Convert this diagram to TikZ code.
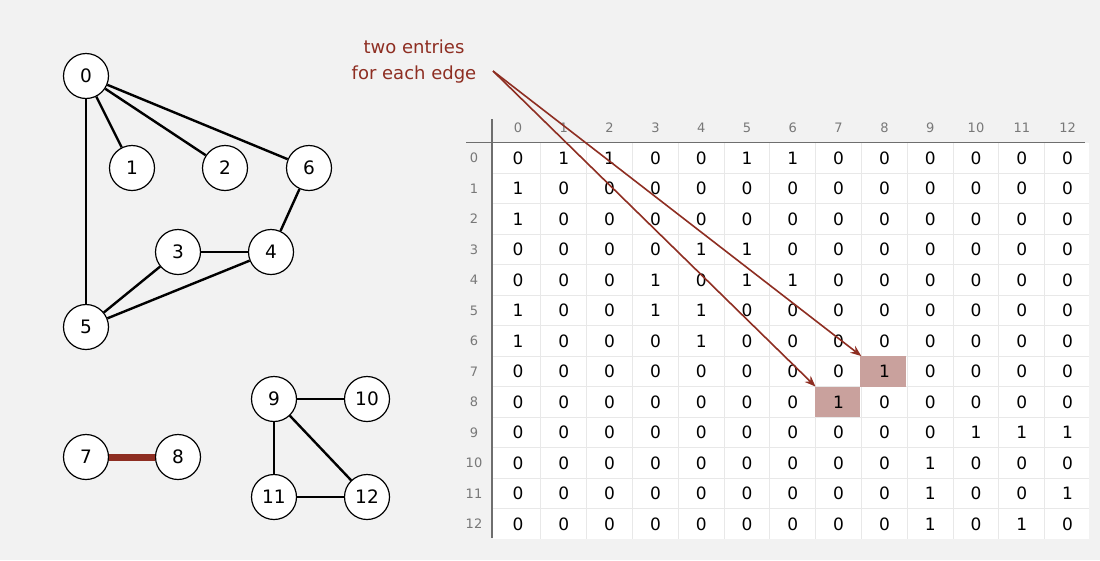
\documentclass[tikz,border=0pt]{standalone}
\usepackage{fontspec}
\setmainfont{DejaVu Sans}
\usetikzlibrary{arrows.meta}
\definecolor{bg}{HTML}{F2F2F2}
\definecolor{redbrown}{HTML}{8E2E22}
\definecolor{hilite}{HTML}{C9A19D}
\definecolor{gridc}{HTML}{E8E8E8}
\definecolor{axisc}{HTML}{6E6E6E}
\definecolor{headc}{HTML}{787878}
\tikzset{
  vtx/.style={circle, draw=black, line width=1.2pt, fill=white, minimum size=45pt, inner sep=0pt, font=\fontsize{18.5}{18.5}\selectfont},
  edge/.style={line width=2.4pt, black},
  redge/.style={line width=7pt, redbrown},
  cell/.style={minimum width=45.8pt, minimum height=30.5pt, inner sep=0pt, font=\fontsize{17}{17}\selectfont},
  head/.style={inner sep=0pt, text=headc, font=\fontsize{13}{13}\selectfont},
  note/.style={text=redbrown, align=center, font=\fontsize{18}{26}\selectfont},
  pointer/.style={redbrown, line width=1.6pt, -{Stealth[length=11pt,width=8.5pt]}},
}
\begin{document}
\begin{tikzpicture}[x=1pt,y=-1pt]
\fill[bg] (0,0) rectangle (1100,560);
\useasboundingbox (0,0) rectangle (1100,560);

% graph vertices
\node[vtx] (g0) at (86,76) {0};
\node[vtx] (g1) at (132,168) {1};
\node[vtx] (g2) at (225,168) {2};
\node[vtx] (g6) at (309,168) {6};
\node[vtx] (g3) at (178,252) {3};
\node[vtx] (g4) at (271,252) {4};
\node[vtx] (g5) at (86,327) {5};
\node[vtx] (g7) at (86,457) {7};
\node[vtx] (g8) at (178,457) {8};
\node[vtx] (g9) at (274,399) {9};
\node[vtx] (g10) at (367,399) {10};
\node[vtx] (g11) at (274,497) {11};
\node[vtx] (g12) at (367,497) {12};
% graph edges
\draw[edge] (g0) -- (g1);
\draw[edge] (g0) -- (g2);
\draw[edge] (g0) -- (g6);
\draw[edge] (g0) -- (g5);
\draw[edge] (g6) -- (g4);
\draw[edge] (g3) -- (g4);
\draw[edge] (g3) -- (g5);
\draw[edge] (g5) -- (g4);
\draw[redge] (g7) -- (g8);
\draw[edge] (g9) -- (g10);
\draw[edge] (g9) -- (g11);
\draw[edge] (g9) -- (g12);
\draw[edge] (g11) -- (g12);

% matrix background and grid
\fill[white] (493,142.75) rectangle (1089.4,539.25);
\foreach \i in {1,...,12} {
  \draw[gridc, line width=0.8pt] ({495+45.8*\i},142.75) -- ({495+45.8*\i},539.25);
  \draw[gridc, line width=0.8pt] (493,{142.75+30.5*\i}) -- (1089.4,{142.75+30.5*\i});
}
% highlighted cells
\fill[hilite] (860.4,356.25) rectangle (906.2,386.75);
\fill[hilite] (814.6,386.75) rectangle (860.4,417.25);

% matrix entries
\foreach \r/\row in {
 0/{0,1,1,0,0,1,1,0,0,0,0,0,0},
 1/{1,0,0,0,0,0,0,0,0,0,0,0,0},
 2/{1,0,0,0,0,0,0,0,0,0,0,0,0},
 3/{0,0,0,0,1,1,0,0,0,0,0,0,0},
 4/{0,0,0,1,0,1,1,0,0,0,0,0,0},
 5/{1,0,0,1,1,0,0,0,0,0,0,0,0},
 6/{1,0,0,0,1,0,0,0,0,0,0,0,0},
 7/{0,0,0,0,0,0,0,0,1,0,0,0,0},
 8/{0,0,0,0,0,0,0,1,0,0,0,0,0},
 9/{0,0,0,0,0,0,0,0,0,0,1,1,1},
 10/{0,0,0,0,0,0,0,0,0,1,0,0,0},
 11/{0,0,0,0,0,0,0,0,0,1,0,0,1},
 12/{0,0,0,0,0,0,0,0,0,1,0,1,0}} {
  \foreach \v [count=\c from 0] in \row {
    \node[cell] (m-\r-\c) at ({518+45.8*\c},{158+30.5*\r}) {\v};
  }
}
% headers
\foreach \c in {0,...,12} {
  \node[head] (ch-\c) at ({518+45.8*\c},128) {\c};
  \node[head] (rh-\c) at (474,{158+30.5*\c}) {\c};
}
% axes
\draw[axisc, line width=1.3pt] (492,119) -- (492,538);
\draw[axisc, line width=1.3pt] (466,142.5) -- (1085,142.5);

% annotation
\node[note] (note) at (414,62) {two entries\\for each edge};
\coordinate (src) at (493,71);
\draw[pointer] (src) -- (m-7-8.north west);
\draw[pointer] (src) -- (m-8-7.north west);
\end{tikzpicture}
\end{document}
